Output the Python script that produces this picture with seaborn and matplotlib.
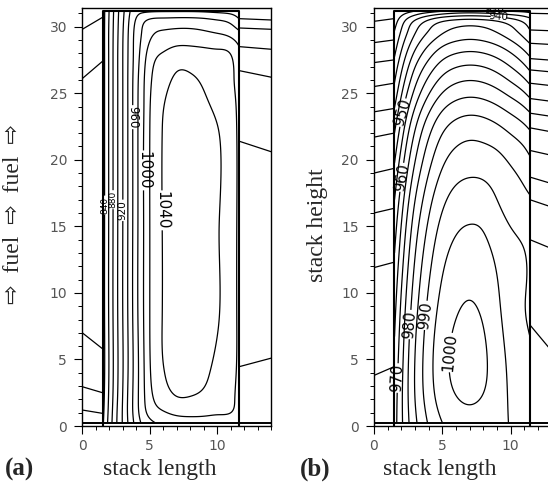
import numpy as np
import matplotlib
matplotlib.use("Agg")
import matplotlib.pyplot as plt
from matplotlib.ticker import MultipleLocator
import seaborn as sns

sns.set_style("ticks")
plt.rcParams["font.family"] = ["DejaVu Sans"]

# ---------------------------------------------------------------------------
# (a) cell temperature field (K) on a coarse grid: stack length x stack height
# ---------------------------------------------------------------------------
xa = [1.5, 2.0, 2.5, 3.0, 3.5, 4.0, 4.5, 5.0, 6.0, 7.0, 8.0, 9.0, 10.0, 11.0, 11.6]
ya = [0.25, 1.0, 2.0, 4.0, 8.0, 15.0, 22.0, 24.0, 26.0, 28.0, 29.5, 30.5, 31.2]
temp_a = [
    [836, 868, 897, 922, 946, 968, 985, 995, 1005, 1010, 1012, 1012, 1011, 1010, 1008],
    [834, 866, 896, 922, 948, 972, 992, 1006, 1018, 1024, 1025, 1024, 1022, 1020, 1014],
    [832, 864, 894, 921, 948, 973, 995, 1013, 1030, 1038, 1038, 1035, 1030, 1024, 1015],
    [830, 862, 892, 919, 946, 972, 996, 1018, 1039, 1046, 1047, 1043, 1036, 1027, 1016],
    [830, 863, 893, 920, 947, 974, 998, 1020, 1041, 1050, 1052, 1048, 1041, 1030, 1016],
    [830, 863, 893, 920, 947, 974, 998, 1020, 1041, 1050, 1052, 1048, 1041, 1030, 1016],
    [830, 863, 893, 920, 947, 974, 998, 1020, 1041, 1050, 1052, 1048, 1041, 1030, 1016],
    [830, 863, 893, 920, 947, 974, 997, 1019, 1039.5, 1046.5, 1047, 1043, 1037, 1028, 1015],
    [830, 863, 893, 920, 947, 973, 996, 1016, 1034, 1042.5, 1042, 1038, 1032, 1024, 1013],
    [830, 863, 893, 920, 946, 970, 990, 1008, 1021, 1028, 1028, 1026, 1024, 1019, 1005],
    [830, 863, 892, 919, 945, 968, 983, 995, 1003, 1005, 1005, 1003, 1000, 994, 985],
    [830, 862, 891, 917, 942, 962, 975, 982, 985, 986, 986, 984, 980, 973, 962],
    [830, 861, 890, 915, 938, 952, 955, 956, 957, 957, 957, 956, 954, 952, 950],
]
levels_a = [840, 860, 880, 900, 920, 940, 960, 980, 1000, 1020, 1040]

# (level, x, y, font size) of the inline labels
labels_a = [(840, 1.7, 16.6, 6.5), (880, 2.3, 17.0, 6.5), (920, 3.0, 16.2, 7.5),
            (960, 3.75, 23.2, 8.5), (1000, 4.55, 19.2, 11), (1040, 5.95, 16.2, 11)]

# fuel channel isotherms: height at the outer wall and at the cell wall
fuel_a_outer = [1.2, 2.95, 7.0, 26.1, 29.8]
fuel_a_wall = [0.95, 2.5, 5.8, 27.4, 30.7]
# air channel isotherms: height at the cell wall and at the outer wall
air_a_wall = [4.45, 21.4, 26.7, 28.5, 29.9, 30.6]
air_a_outer = [5.1, 20.6, 26.2, 28.3, 29.8, 30.5]

# ---------------------------------------------------------------------------
# (b) cell temperature field (K)
# ---------------------------------------------------------------------------
xb = [1.5, 2.0, 2.5, 3.0, 3.5, 4.0, 5.0, 6.0, 7.0, 8.0, 9.0, 10.0, 11.0, 11.4]
yb = [0.25, 2.0, 5.0, 9.0, 13.0, 17.0, 20.0, 23.0, 25.0, 27.0, 28.5, 29.7, 30.5, 31.2]
temp_b = [
    [968.0, 974.0, 979.4, 983.9, 987.5, 990.5, 995.0, 997.25, 998.0, 997.5, 996.2, 994.7, 992.6, 992.0],
    [967.5, 974.1, 980.0, 985.0, 988.95, 992.25, 997.2, 999.7, 1000.5, 999.6, 997.3, 994.4, 992.5, 991.8],
    [966.0, 973.2, 979.7, 985.1, 989.4, 993.0, 998.4, 1001.1, 1002.0, 1000.8, 997.4, 993.75, 991.4, 990.7],
    [963.5, 970.9, 977.5, 983.0, 987.4, 991.1, 996.6, 999.4, 1000.3, 999.1, 995.9, 992.4, 990.1, 989.5],
    [960.0, 967.4, 974.1, 979.7, 984.2, 987.9, 993.5, 996.3, 997.2, 996.4, 994.0, 991.6, 990.1, 989.3],
    [955.0, 962.5, 969.3, 974.9, 979.4, 983.2, 988.8, 991.7, 992.6, 992.2, 990.0, 987.8, 986.2, 985.5],
    [949.5, 957.1, 964.0, 969.7, 974.3, 978.15, 983.9, 986.75, 987.7, 987.4, 986.3, 984.3, 982.0, 980.6],
    [942.5, 950.2, 957.2, 962.9, 967.6, 971.45, 977.2, 980.1, 981.1, 980.6, 979.0, 976.6, 973.8, 972.3],
    [937.0, 944.4, 951.0, 956.5, 960.9, 964.6, 970.1, 972.9, 973.8, 973.2, 971.4, 968.7, 965.3, 963.3],
    [932.0, 938.7, 944.7, 949.8, 953.8, 957.1, 962.15, 964.7, 965.5, 964.9, 963.0, 959.9, 955.7, 953.5],
    [928.0, 934.0, 939.4, 943.9, 947.5, 950.5, 955.0, 957.25, 958.0, 957.4, 955.6, 952.6, 948.4, 946.3],
    [925.0, 930.3, 935.1, 939.2, 942.4, 945.0, 949.0, 951.0, 951.7, 951.1, 949.4, 946.5, 942.4, 940.2],
    [922.5, 927.2, 931.4, 934.8, 937.6, 940.0, 943.5, 945.2, 945.8, 945.3, 943.9, 941.5, 938.2, 936.5],
    [920.0, 921.5, 923.0, 924.5, 926.0, 927.0, 929.0, 930.5, 931.0, 930.6, 929.8, 929.0, 928.5, 928.0],
]
levels_b = [925, 930, 935, 940, 945, 950, 955, 960, 965, 970, 975, 980, 985, 990, 995, 1000]

labels_b = [(930, 8.4, 31.15, 7.5), (940, 9.1, 30.65, 7.5), (950, 2.45, 23.4, 10.5),
            (960, 2.35, 18.6, 10.5), (970, 1.78, 3.6, 10.5), (980, 2.83, 7.6, 10.5),
            (990, 3.85, 8.3, 10.5), (1000, 5.7, 5.5, 11)]

fuel_b_outer = [3.8, 11.9, 16.0, 19.0, 21.7, 23.6, 25.5, 27.3, 28.8, 30.4]
fuel_b_wall = [4.45, 12.3, 16.35, 19.35, 22.0, 23.85, 25.75, 27.5, 29.0, 30.6]
air_b_wall = [31.0, 29.75, 28.75, 27.6, 26.75, 25.75, 24.6, 23.5, 22.4, 20.7, 18.7, 17.0, 14.0, 7.6]
air_b_outer = [30.95, 29.65, 28.6, 27.4, 26.5, 25.45, 24.25, 23.1, 21.9, 20.1, 17.9, 16.1, 12.9, 4.4]

# geometry of the stack (outer channel walls and the cell)
X_MAX, Y_MAX = 14.0, 31.4
cell_a = (1.5, 11.6, 0.25, 31.2)
cell_b = (1.46, 11.4, 0.25, 31.2)

W, H = 548, 488
fig = plt.figure(figsize=(W / 100, H / 100), dpi=100)
ax_a = fig.add_axes([82.3 / W, 62 / H, 189 / W, 418 / H])
ax_b = fig.add_axes([374 / W, 62 / H, 191.4 / W, 418 / H])

LINE = dict(colors="k", linewidths=0.9, linestyles="solid")


def spline_weights(knots, pts):
    """Natural cubic spline as a matrix: values at pts = M @ values at knots."""
    xk = np.asarray(knots, float)
    n = len(xk)
    h = np.diff(xk)
    A = np.zeros((n, n))
    B = np.zeros((n, n))
    A[0, 0] = A[-1, -1] = 1.0
    for i in range(1, n - 1):
        A[i, i - 1], A[i, i], A[i, i + 1] = h[i - 1], 2 * (h[i - 1] + h[i]), h[i]
        B[i, i - 1], B[i, i], B[i, i + 1] = 6 / h[i - 1], -6 / h[i - 1] - 6 / h[i], 6 / h[i]
    curv = np.linalg.solve(A, B)
    idx = np.clip(np.searchsorted(xk, pts) - 1, 0, n - 2)
    hh = xk[idx + 1] - xk[idx]
    a = (xk[idx + 1] - pts) / hh
    b = (pts - xk[idx]) / hh
    M = np.zeros((len(pts), n))
    rows = np.arange(len(pts))
    M[rows, idx] += a
    M[rows, idx + 1] += b
    M += ((a ** 3 - a) * hh ** 2 / 6)[:, None] * curv[idx]
    M += ((b ** 3 - b) * hh ** 2 / 6)[:, None] * curv[idx + 1]
    return M


def cell_contours(ax, xs, ys, temps, levels, labels):
    fx = np.linspace(xs[0], xs[-1], 240)
    fy = np.linspace(ys[0], ys[-1], 420)
    field = spline_weights(ys, fy) @ np.asarray(temps, float) @ spline_weights(xs, fx).T
    labelled = {lev for lev, *_ in labels}
    plain = [lev for lev in levels if lev not in labelled]
    ax.contour(fx, fy, field, levels=plain, **LINE)
    # each labelled isotherm is drawn on its own so its label can cut the line
    for lev in sorted(labelled):
        spots = [(lx, ly) for l, lx, ly, _ in labels if l == lev]
        size = [s for l, _, _, s in labels if l == lev][0]
        cs = ax.contour(fx, fy, field, levels=[lev], **LINE)
        cs.clabel(manual=spots, inline=True, inline_spacing=1,
                  fontsize=size, fmt="%d", colors="k")


def channel_lines(ax, x0, x1, y0s, y1s):
    for y0, y1 in zip(y0s, y1s):
        ax.plot([x0, x1], [y0, y1], color="k", lw=0.9, solid_capstyle="butt")


def cell_box(ax, box):
    x0, x1, y0, y1 = box
    ax.plot([x0, x0, x1, x1], [0, y1, y1, 0], color="k", lw=1.5)
    ax.plot([0, X_MAX], [y0, y0], color="k", lw=1.4)


cell_contours(ax_a, xa, ya, temp_a, levels_a, labels_a)
channel_lines(ax_a, 0, cell_a[0], fuel_a_outer, fuel_a_wall)
channel_lines(ax_a, cell_a[1], X_MAX, air_a_wall, air_a_outer)
cell_box(ax_a, cell_a)

cell_contours(ax_b, xb, yb, temp_b, levels_b, labels_b)
channel_lines(ax_b, 0, cell_b[0], fuel_b_outer, fuel_b_wall)
channel_lines(ax_b, cell_b[1], X_MAX, air_b_wall, air_b_outer)
cell_box(ax_b, cell_b)

for ax in (ax_a, ax_b):
    ax.set_xlim(0, X_MAX)
    ax.set_ylim(0, Y_MAX)
    ax.xaxis.set_major_locator(MultipleLocator(5))
    ax.xaxis.set_minor_locator(MultipleLocator(1))
    ax.yaxis.set_major_locator(MultipleLocator(5))
    ax.yaxis.set_minor_locator(MultipleLocator(1))
    ax.tick_params(which="major", direction="out", length=6, width=0.8,
                   labelsize=10, labelcolor="#555555", color="k")
    ax.tick_params(axis="x", which="major", pad=3.5)
    ax.tick_params(axis="y", which="major", pad=5)
    ax.tick_params(which="minor", direction="out", length=3.2, width=0.7, color="k")
    for sp in ax.spines.values():
        sp.set_linewidth(1.0)
        sp.set_color("k")

serif = ["Liberation Serif", "DejaVu Serif"]
fig.text(160 / W, 1 - 475 / H, "stack length", family=serif, fontsize=17,
         ha="center", va="baseline")
fig.text(440 / W, 1 - 475 / H, "stack length", family=serif, fontsize=17,
         ha="center", va="baseline")
fig.text(5 / W, 1 - 476 / H, "(a)", family=serif, fontsize=18, weight="bold",
         ha="left", va="baseline")
fig.text(300 / W, 1 - 476 / H, "(b)", family=serif, fontsize=18, weight="bold",
         ha="left", va="baseline")
fig.text(14 / W, 1 - 214 / H, "\u21e8  fuel  \u21e8  fuel  \u21e8",
         family=["Liberation Serif", "DejaVu Sans"], fontsize=17, rotation=90,
         ha="center", va="center")
fig.text(317 / W, 1 - 225 / H, "stack height", family=serif, fontsize=17,
         rotation=90, ha="center", va="center")

fig.savefig("out.png", dpi=100)
